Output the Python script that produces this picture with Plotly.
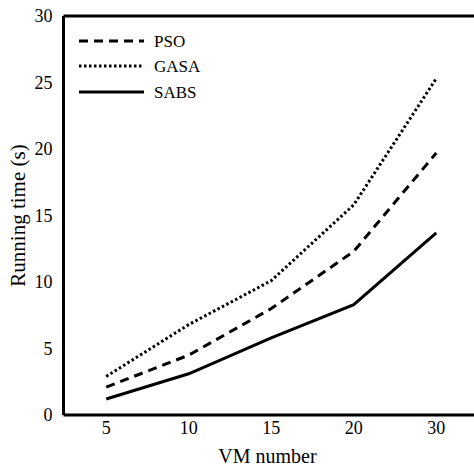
import plotly.graph_objects as go

# VM counts and measured running times (seconds)
vm_numbers = ["5", "10", "15", "20", "30"]
pso_times = [2.1, 4.5, 8.0, 12.3, 19.7]
gasa_times = [2.9, 6.8, 10.1, 15.8, 25.3]
sabs_times = [1.2, 3.1, 5.8, 8.3, 13.7]

y_ticks = [0, 5, 10, 15, 20, 25, 30]

W, H = 474, 467
ML, MR, MT, MB = 65, 4, 16, 52
font_family = "Liberation Serif, Times New Roman, serif"

series = [
    ("PSO", pso_times, "9px,6px", 3),
    ("GASA", gasa_times, "2.5px,2.5px", 3),
    ("SABS", sabs_times, "solid", 3),
]

fig = go.Figure()
for name, vals, dash, width in series:
    fig.add_trace(go.Scatter(
        x=vm_numbers, y=vals, mode="lines", name=name,
        line=dict(color="#000000", width=width, dash=dash),
        showlegend=False,
    ))

# Legend drawn by hand in the upper-left corner with long line samples
plot_w = W - ML - MR
plot_h = H - MT - MB

def px_x(p):
    return (p - ML) / plot_w

def px_y(p):
    return (H - MB - p) / plot_h

legend_rows = [41, 66, 92]
shapes = [
    # top and bottom edges of the frame run to the page edge; no right edge
    dict(type="line", xref="paper", yref="paper", x0=px_x(63.5), x1=px_x(W), y0=1, y1=1,
         line=dict(color="#000000", width=3)),
    dict(type="line", xref="paper", yref="paper", x0=px_x(63.5), x1=px_x(W), y0=0, y1=0,
         line=dict(color="#000000", width=3)),
]
annotations = []
for (name, _, dash, width), row in zip(series, legend_rows):
    shapes.append(dict(
        type="line", xref="paper", yref="paper",
        x0=px_x(79), x1=px_x(144), y0=px_y(row), y1=px_y(row),
        line=dict(color="#000000", width=width, dash=dash),
    ))
    annotations.append(dict(
        text=name, xref="paper", yref="paper",
        x=px_x(152), y=px_y(row), xanchor="left", yanchor="middle",
        showarrow=False, font=dict(family=font_family, size=17, color="#000000"),
    ))

# category spacing of ~82.5 px, so the last category sits near x=436
spacing = 82.5
x_max = -0.5 + plot_w / spacing

fig.update_layout(
    template="none",
    width=W, height=H,
    margin=dict(l=ML, r=MR, t=MT, b=MB, pad=0, autoexpand=False),
    paper_bgcolor="white", plot_bgcolor="white",
    font=dict(family=font_family, size=18, color="#000000"),
    shapes=shapes, annotations=annotations,
    xaxis=dict(
        type="category", range=[-0.5, x_max], automargin=False,
        showline=False, mirror=False,
        showgrid=False, zeroline=False, ticks="",
        title=dict(text="VM number", font=dict(size=20), standoff=13),
        tickfont=dict(size=18),
    ),
    yaxis=dict(
        range=[0, 30], tickvals=y_ticks, automargin=False,
        showline=True, linecolor="#000000", linewidth=3, mirror=False,
        showgrid=False, zeroline=False, ticks="",
        ticklabelstandoff=6,
        title=dict(text="Running time (s)", font=dict(size=21), standoff=4),
        tickfont=dict(size=18),
    ),
)

fig.write_html("out.html")
